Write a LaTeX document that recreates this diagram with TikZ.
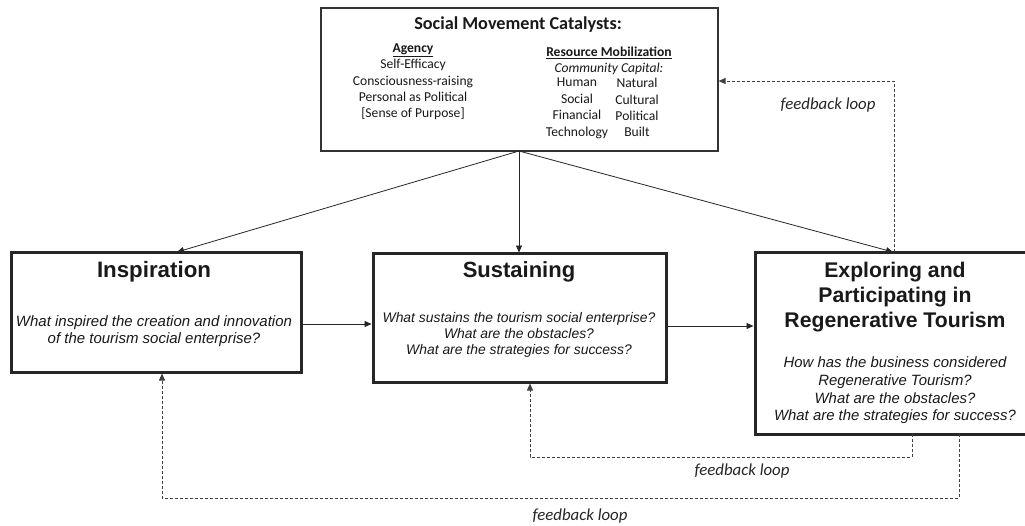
\documentclass[tikz,border=0pt]{standalone}
\usepackage{fontspec}
\setmainfont{Liberation Sans}
\newfontfamily\calfont{Carlito}
\newfontfamily\arifont{Liberation Sans}
\usetikzlibrary{arrows.meta}
\begin{document}
\begin{tikzpicture}[x=1pt,y=-1pt,
  box/.style={draw=black!85,line width=3pt,inner sep=0pt,minimum width=#1},
  topbox/.style={draw=black!80,line width=1.2pt,inner sep=0pt},
  tx/.style={inner sep=0pt,align=center,text=black!90},
  conn/.style={draw=black!85,line width=0.8pt,-{Triangle[length=7pt,width=6pt]}},
  fb/.style={draw=black!75,line width=0.8pt,dash pattern=on 3pt off 2pt,-{Triangle[length=7pt,width=6pt]}},
  fblabel/.style={inner sep=0pt,font=\calfont\itshape\fontsize{16.8}{18}\selectfont,text=black!85}
]
\clip (0,0) rectangle (1025,525);
\fill[white] (0,0) rectangle (1025,525);
% boxes
\node[topbox,minimum width=397pt,minimum height=143pt] (top) at (519.5,79.5) {};
\node[box=290pt,minimum height=120pt] (insp) at (156,312) {};
\node[box=293pt,minimum height=129pt] (sust) at (519.5,317.5) {};
\node[box=280pt,minimum height=182pt] (expl) at (895,343) {};
% top box text
\node[tx,font=\calfont\bfseries\fontsize{18.2}{20}\selectfont] (toptitle) at (518,25) {Social Movement Catalysts:};
\node[tx,font=\calfont\bfseries\fontsize{13.6}{15}\selectfont] (agency) at (413,50) {\underline{Agency}};
\node[tx,anchor=north,font=\calfont\fontsize{13.6}{16.4}\selectfont] (agencyitems) at (413,59) {Self-Efficacy\\Consciousness-raising\\Personal as Political\\{[Sense of Purpose]}};
\node[tx,font=\calfont\bfseries\fontsize{13.6}{15}\selectfont] (resmob) at (609,53) {\underline{Resource Mobilization}};
\node[tx,font=\calfont\itshape\fontsize{13.6}{15}\selectfont] (comcap) at (609,69) {Community Capital:};
\node[tx,anchor=north,font=\calfont\fontsize{13.6}{16.4}\selectfont] (capleft) at (577,78) {Human\\Social\\Financial\\Technology};
\node[tx,anchor=north,font=\calfont\fontsize{13.6}{16.4}\selectfont] (capright) at (637,78) {Natural\\Cultural\\Political\\Built};
% main box texts
\node[tx,font=\arifont\bfseries\fontsize{22.3}{25}\selectfont] (insptitle) at (154,272) {Inspiration};
\node[tx,font=\arifont\itshape\fontsize{15}{17}\selectfont] (insptext) at (154,331) {What inspired the creation and innovation\\of the tourism social enterprise?};
\node[tx,font=\arifont\bfseries\fontsize{22}{25}\selectfont] (susttitle) at (519,272) {Sustaining};
\node[tx,font=\arifont\itshape\fontsize{13.9}{16.2}\selectfont] (susttext) at (519,335) {What sustains the tourism social enterprise?\\What are the obstacles?\\What are the strategies for success?};
\node[tx,font=\arifont\bfseries\fontsize{21.2}{25}\selectfont] (expltitle) at (895,297) {Exploring and\\Participating in\\Regenerative Tourism};
\node[tx,font=\arifont\itshape\fontsize{14.9}{17.6}\selectfont] (expltext) at (895,390.5) {How has the business considered\\Regenerative Tourism?\\What are the obstacles?\\What are the strategies for success?};
% connectors
\coordinate (tb) at (519,151);
\draw[conn] (tb) -- (177,252);
\draw[conn] (tb) -- (519,252.5);
\draw[conn] (tb) -- (893,252);
\draw[conn] (insp.east |- 0,324) -- (sust.west |- 0,324);
\draw[conn] (sust.east |- 0,326) -- (expl.west |- 0,326);
% feedback loops
\coordinate (f1a) at (894,252);
\coordinate (f1b) at (894,81);
\draw[fb] (f1a) -- (f1b) -- (top.east |- f1b);
\coordinate (f2a) at (912,434);
\coordinate (f2b) at (912,457);
\coordinate (f2c) at (530,457);
\draw[fb] (f2a) -- (f2b) -- (f2c) -- (sust.south -| f2c);
\coordinate (f3a) at (959,434);
\coordinate (f3b) at (959,498);
\coordinate (f3c) at (162,498);
\draw[fb] (f3a) -- (f3b) -- (f3c) -- (insp.south -| f3c);
\node[fblabel] (fbl1) at (828,105) {feedback loop};
\node[fblabel] (fbl2) at (742,471) {feedback loop};
\node[fblabel] (fbl3) at (580,516) {feedback loop};
\end{tikzpicture}
\end{document}
